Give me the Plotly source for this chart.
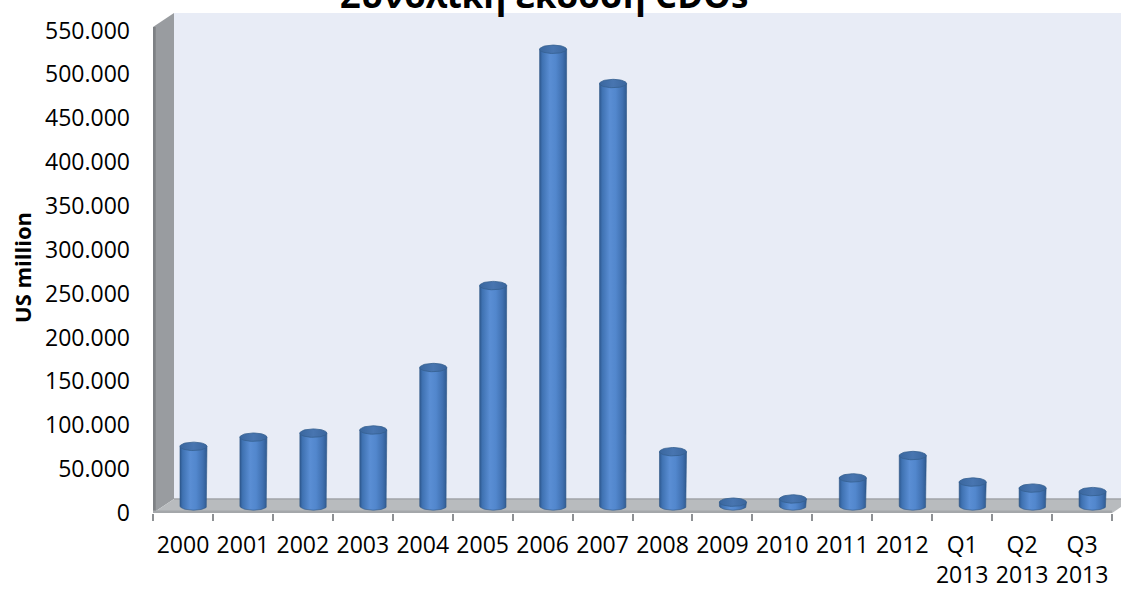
import numpy as np
import plotly.graph_objects as go

# Global CDO issuance, US$ million
categories = ["2000", "2001", "2002", "2003", "2004", "2005", "2006", "2007",
              "2008", "2009", "2010", "2011", "2012", "Q1 2013", "Q2 2013", "Q3 2013"]
issuance = [67990, 78450, 83070, 86630, 157820, 251270, 520640, 481600,
            61890, 4340, 8020, 32010, 57500, 27300, 20400, 16400]
title_text = "Συνολική έκδοση CDOs"
y_title = "US million"

# ---- page geometry (pixels) ----
W, H = 1121, 592
L, R, T, B = 153, 0, 9, 79
CAT_PX = 59.94              # width of one category slot on the front edge
PX_PER_UNIT = 43.86 / 50000  # vertical pixels per US$ million
DEPTH_PX = (21, 14)         # 3-D depth offset of the walls (right, up)

plot_w = W - L - R
plot_h = H - T - B
n = len(categories)
x0, x1 = -0.5, n - 0.5
x_max = x0 + plot_w / CAT_PX
y_max = plot_h / PX_PER_UNIT

dx = DEPTH_PX[0] / CAT_PX
dy = DEPTH_PX[1] / PX_PER_UNIT
wall_top = 554000

# cylinder geometry
radius = 13.5 / CAT_PX
cap = 4.2 / PX_PER_UNIT
base = dy / 2
shift = dx / 2

FONT = "Open Sans"

fig = go.Figure()

body_scale = [[0.0, "#2E5990"], [0.1, "#3F72B2"], [0.38, "#5A8ED4"],
              [0.6, "#5287CD"], [0.85, "#4070B0"], [1.0, "#2F5A90"]]
cap_scale = [[0.0, "#3A679F"], [0.5, "#4875B0"], [1.0, "#3A669E"]]

for i, v in enumerate(issuance):
    cx = i + shift
    top = base + v
    th = np.linspace(0, -np.pi, 40)
    bx = list(cx + radius * np.cos(th))
    by = list(base + cap * np.sin(th))
    xs = [cx - radius, cx - radius, cx + radius] + bx
    ys = [base, top, top] + by
    fig.add_trace(go.Scatter(
        x=xs, y=ys, mode="lines", fill="toself",
        fillgradient=dict(type="horizontal", colorscale=body_scale),
        line=dict(color="#2E5685", width=0.6),
        hoverinfo="skip", showlegend=False))
    t = np.linspace(0, 2 * np.pi, 60)
    fig.add_trace(go.Scatter(
        x=cx + radius * np.cos(t), y=top + cap * np.sin(t),
        mode="lines", fill="toself",
        fillgradient=dict(type="horizontal", colorscale=cap_scale),
        line=dict(color="#35608F", width=0.8),
        hoverinfo="skip", showlegend=False))

shapes = [
    # back wall
    dict(type="rect", xref="x", yref="y", x0=x0 + dx, x1=x_max + 1,
         y0=dy, y1=wall_top + dy, fillcolor="#E8ECF6", line_width=0, layer="below"),
    # left side wall
    dict(type="path", xref="x", yref="y",
         path=f"M {x0},0 L {x0},{wall_top} L {x0 + dx},{wall_top + dy} L {x0 + dx},{dy} Z",
         fillcolor="#999CA0", line_width=0, layer="below"),
    dict(type="line", xref="x", yref="y", x0=x0 + 0.02, x1=x0 + 0.02, y0=0, y1=wall_top,
         line=dict(color="#7E8185", width=3), layer="below"),
    # floor
    dict(type="path", xref="x", yref="y",
         path=f"M {x0},0 L {x1},0 L {x1 + dx},{dy} L {x0 + dx},{dy} Z",
         fillcolor="#B8BBBE", line_width=0, layer="below"),
    dict(type="line", xref="x", yref="y", x0=x0 + dx, x1=x1 + dx, y0=dy, y1=dy,
         line=dict(color="#A2A5A8", width=1.5), layer="below"),
    dict(type="line", xref="x", yref="y", x0=x0, x1=x1, y0=1200, y1=1200,
         line=dict(color="#A4A7AA", width=3), layer="below"),
]

fig.update_layout(
    width=W, height=H,
    margin=dict(l=L, r=R, t=T, b=B, pad=0),
    paper_bgcolor="white", plot_bgcolor="white",
    separators=",.",
    font=dict(family=FONT, size=23, color="black"),
    shapes=shapes,
    xaxis=dict(range=[x0, x_max], tickmode="array", tickvals=list(range(n)),
               ticktext=[c.replace(" ", "<br>") for c in categories],
               ticks="", ticklabelstandoff=16,
               showgrid=False, zeroline=False, showline=False,
               minor=dict(tickmode="array", tickvals=[k - 0.5 for k in range(n + 1)],
                          ticks="outside", ticklen=7, tickwidth=1.5,
                          tickcolor="#8E9194", showgrid=False)),
    yaxis=dict(range=[0, y_max], tickmode="linear", tick0=0, dtick=50000,
               tickformat=",d", ticks="", ticklabelstandoff=22,
               showgrid=False, zeroline=False, showline=False),
    annotations=[
        dict(text=f"<b>{title_text}</b>", xref="paper", yref="paper",
             x=(544 - L) / plot_w, y=1 + (T + 5.5) / plot_h,
             xanchor="center", yanchor="middle", showarrow=False,
             font=dict(family=FONT, size=35, color="black")),
        dict(text=f"<b>{y_title}</b>", xref="paper", yref="paper",
             x=(22 - L) / plot_w, y=(H - B - 268) / plot_h,
             xanchor="center", yanchor="middle", textangle=-90, showarrow=False,
             font=dict(family=FONT, size=22, color="black")),
    ],
)

fig.write_html("out.html")
